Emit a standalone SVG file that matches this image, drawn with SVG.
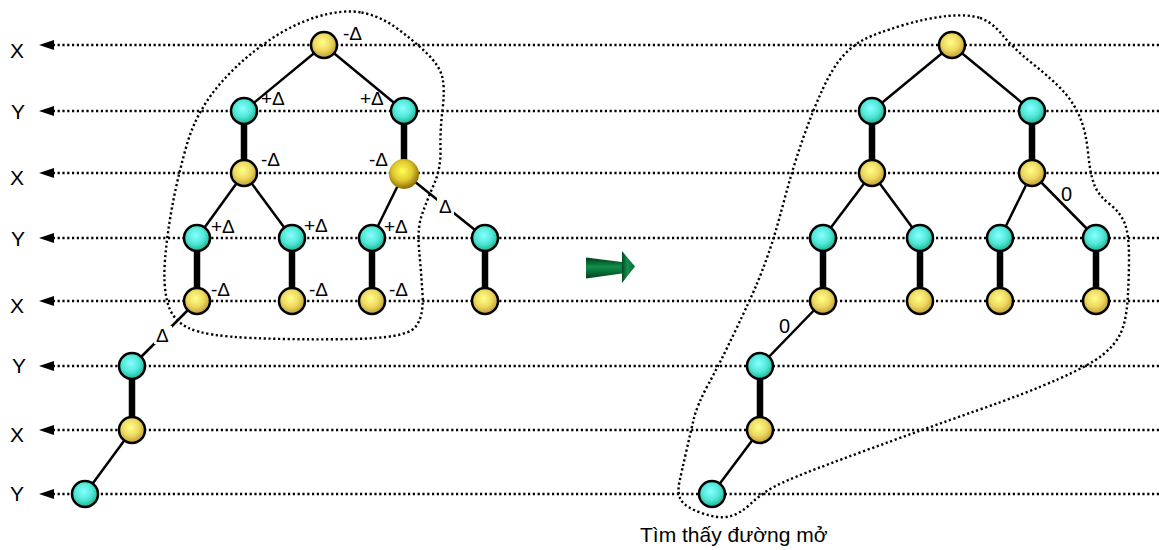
<svg xmlns="http://www.w3.org/2000/svg" width="1159" height="550" viewBox="0 0 1159 550">
<style>
.row{fill:none;stroke:#000;stroke-width:2.4;stroke-dasharray:2.2 2.6}
.enc{fill:none;stroke:#000;stroke-width:2.4;stroke-dasharray:2.2 2.6}
.thin{stroke:#000;stroke-width:2.5;fill:none}
.thick{stroke:#000;stroke-width:6.5;fill:none}
.nx{fill:url(#gy);stroke:#000;stroke-width:2.5}
.ny{fill:url(#gt);stroke:#000;stroke-width:2.5}
.ax{font-family:"Liberation Sans",Arial,sans-serif;font-size:21px;fill:#000}
.lb{font-family:"Liberation Sans",Arial,sans-serif;font-size:19px;fill:#000}
.nm{font-family:"Liberation Sans",Arial,sans-serif;font-size:20px;fill:#000}
.cap{font-family:"Liberation Sans",Arial,sans-serif;font-size:21px;fill:#000}
</style>
<defs>
<radialGradient id="gy" cx="0.45" cy="0.4" r="0.6">
<stop offset="0" stop-color="#ffff88"/>
<stop offset="0.55" stop-color="#ecd860"/>
<stop offset="1" stop-color="#c09a30"/>
</radialGradient>
<radialGradient id="gt" cx="0.45" cy="0.4" r="0.6">
<stop offset="0" stop-color="#88ffff"/>
<stop offset="0.55" stop-color="#50e8d8"/>
<stop offset="1" stop-color="#20b090"/>
</radialGradient>
<radialGradient id="gs" cx="0.45" cy="0.4" r="0.6">
<stop offset="0" stop-color="#ffff50"/>
<stop offset="0.55" stop-color="#e0c830"/>
<stop offset="1" stop-color="#8a6800"/>
</radialGradient>
<linearGradient id="gb" x1="0" y1="0" x2="0" y2="1">
<stop offset="0" stop-color="#003a18"/>
<stop offset="0.45" stop-color="#12904a"/>
<stop offset="1" stop-color="#00401c"/>
</linearGradient>
<linearGradient id="gh" x1="0" y1="0" x2="1" y2="0">
<stop offset="0" stop-color="#004a20"/>
<stop offset="0.4" stop-color="#14904c"/>
<stop offset="1" stop-color="#0a6a34"/>
</linearGradient>
<marker id="ah" viewBox="0 0 15 10" refX="0" refY="5" markerWidth="15" markerHeight="10" markerUnits="userSpaceOnUse" orient="auto">
<path d="M0,0 L15,5 L0,10 Z" fill="#000"/>
</marker>
</defs>
<rect width="1159" height="550" fill="#fff"/>

<g id="rows">
<line class="row" x1="1159" y1="45" x2="54" y2="45" marker-end="url(#ah)"/>
<line class="row" x1="1159" y1="111" x2="54" y2="111" marker-end="url(#ah)"/>
<line class="row" x1="1159" y1="173" x2="54" y2="173" marker-end="url(#ah)"/>
<line class="row" x1="1159" y1="238" x2="54" y2="238" marker-end="url(#ah)"/>
<line class="row" x1="1159" y1="301" x2="54" y2="301" marker-end="url(#ah)"/>
<line class="row" x1="1159" y1="366" x2="54" y2="366" marker-end="url(#ah)"/>
<line class="row" x1="1159" y1="430" x2="54" y2="430" marker-end="url(#ah)"/>
<line class="row" x1="1159" y1="494" x2="54" y2="494" marker-end="url(#ah)"/>
<text class="ax" x="17" y="58" text-anchor="middle">X</text>
<text class="ax" x="18" y="119" text-anchor="middle">Y</text>
<text class="ax" x="17" y="185" text-anchor="middle">X</text>
<text class="ax" x="18" y="246" text-anchor="middle">Y</text>
<text class="ax" x="17" y="313" text-anchor="middle">X</text>
<text class="ax" x="19" y="373" text-anchor="middle">Y</text>
<text class="ax" x="17" y="442" text-anchor="middle">X</text>
<text class="ax" x="17" y="501" text-anchor="middle">Y</text>
</g>

<g id="enclosures">
<path class="enc" d="M361.5,12.5 Q380,16 396.5,28 Q413,40 426.5,53 Q440,66 442.5,78 Q445,90 442.5,110 Q440,130 440.5,149 Q441,168 434.5,183 Q428,198 422.5,213 Q417,228 419,249 Q421,270 422.5,294 Q424,318 414.5,328 Q405,338 352.5,339 Q300,340 252.5,338 Q205,336 188.5,328 Q172,320 167.5,302.5 Q163,285 165,260 Q167,235 172,207.5 Q177,180 186,147.5 Q195,115 215,90 Q235,65 262.5,45 Q290,25 316.5,17 Q343,9 361.5,12.5 Z"/>
<path class="enc" d="M980,18 Q992,22 1002.5,35 Q1013,48 1033,64 Q1053,80 1063.5,91.5 Q1074,103 1080,117.5 Q1086,132 1088,152.5 Q1090,173 1094,184 Q1098,195 1109.5,204 Q1121,213 1125,224 Q1129,235 1129,257.5 Q1129,280 1127.5,301 Q1126,322 1120.5,333.5 Q1115,345 1102.5,355 Q1090,365 1058.5,379 Q1027,393 977,410.5 Q927,428 860,452.5 Q793,477 777.5,485 Q762,493 751,503.5 Q740,514 729,516.5 Q718,519 701.5,513 Q685,507 681,500 Q677,493 679.5,481.5 Q682,470 686,452.5 Q690,435 693.5,420 Q697,405 708.5,384 Q720,363 735,331.5 Q750,300 756,286 Q762,272 768.5,253.5 Q775,235 784,201 Q793,167 803,138.5 Q813,110 823,88.5 Q833,67 843,56 Q853,45 865,39 Q877,33 902,25.5 Q927,18 947.5,16 Q968,14 980,18 Z"/>
</g>

<g id="connectors">
<line class="thin" x1="324" y1="45" x2="244" y2="111"/>
<line class="thin" x1="324" y1="45" x2="404" y2="111"/>
<line class="thick" x1="244" y1="111" x2="244" y2="173"/>
<line class="thick" x1="404" y1="111" x2="404" y2="173"/>
<line class="thin" x1="244" y1="173" x2="197" y2="238"/>
<line class="thin" x1="244" y1="173" x2="292" y2="238"/>
<line class="thin" x1="404" y1="173" x2="372" y2="238"/>
<line class="thin" x1="404" y1="173" x2="485" y2="238"/>
<line class="thick" x1="197" y1="238" x2="197" y2="301"/>
<line class="thick" x1="292" y1="238" x2="292" y2="301"/>
<line class="thick" x1="372" y1="238" x2="372" y2="301"/>
<line class="thick" x1="485" y1="238" x2="485" y2="301"/>
<line class="thin" x1="197" y1="301" x2="132" y2="366"/>
<line class="thick" x1="132" y1="366" x2="132" y2="430"/>
<line class="thin" x1="132" y1="430" x2="85" y2="494"/>

<line class="thin" x1="952" y1="45" x2="872" y2="111"/>
<line class="thin" x1="952" y1="45" x2="1032" y2="111"/>
<line class="thick" x1="872" y1="111" x2="872" y2="173"/>
<line class="thick" x1="1032" y1="111" x2="1032" y2="173"/>
<line class="thin" x1="872" y1="173" x2="823" y2="238"/>
<line class="thin" x1="872" y1="173" x2="920" y2="238"/>
<line class="thin" x1="1032" y1="173" x2="1000" y2="238"/>
<line class="thin" x1="1032" y1="173" x2="1096" y2="238"/>
<line class="thick" x1="823" y1="238" x2="823" y2="301"/>
<line class="thick" x1="920" y1="238" x2="920" y2="301"/>
<line class="thick" x1="1000" y1="238" x2="1000" y2="301"/>
<line class="thick" x1="1096" y1="238" x2="1096" y2="301"/>
<line class="thin" x1="823" y1="301" x2="760" y2="366"/>
<line class="thick" x1="760" y1="366" x2="760" y2="430"/>
<line class="thin" x1="760" y1="430" x2="712" y2="494"/>
</g>

<g id="left-tree">
<g id="L-root"><circle class="nx" cx="324" cy="45" r="13"/></g>
<g id="L-y1"><circle class="ny" cx="244" cy="111" r="13"/></g>
<g id="L-y2"><circle class="ny" cx="404" cy="111" r="13"/></g>
<g id="L-x1"><circle class="nx" cx="244" cy="173" r="13"/></g>
<g id="L-x2"><circle cx="404" cy="174" r="15" fill="url(#gs)"/></g>
<g id="L-y3"><circle class="ny" cx="197" cy="238" r="13"/></g>
<g id="L-y4"><circle class="ny" cx="292" cy="238" r="13"/></g>
<g id="L-y5"><circle class="ny" cx="372" cy="238" r="13"/></g>
<g id="L-y6"><circle class="ny" cx="485" cy="238" r="13"/></g>
<g id="L-x3"><circle class="nx" cx="197" cy="301" r="13"/></g>
<g id="L-x4"><circle class="nx" cx="292" cy="301" r="13"/></g>
<g id="L-x5"><circle class="nx" cx="372" cy="301" r="13"/></g>
<g id="L-x6"><circle class="nx" cx="485" cy="301" r="13"/></g>
<g id="L-y7"><circle class="ny" cx="132" cy="366" r="13"/></g>
<g id="L-x7"><circle class="nx" cx="132" cy="430" r="13"/></g>
<g id="L-y8"><circle class="ny" cx="85" cy="494" r="13"/></g>
</g>

<g id="right-tree">
<g id="R-root"><circle class="nx" cx="952" cy="45" r="13"/></g>
<g id="R-y1"><circle class="ny" cx="872" cy="111" r="13"/></g>
<g id="R-y2"><circle class="ny" cx="1032" cy="111" r="13"/></g>
<g id="R-x1"><circle class="nx" cx="872" cy="173" r="13"/></g>
<g id="R-x2"><circle class="nx" cx="1032" cy="173" r="13"/></g>
<g id="R-y3"><circle class="ny" cx="823" cy="238" r="13"/></g>
<g id="R-y4"><circle class="ny" cx="920" cy="238" r="13"/></g>
<g id="R-y5"><circle class="ny" cx="1000" cy="238" r="13"/></g>
<g id="R-y6"><circle class="ny" cx="1096" cy="238" r="13"/></g>
<g id="R-x3"><circle class="nx" cx="823" cy="301" r="13"/></g>
<g id="R-x4"><circle class="nx" cx="920" cy="301" r="13"/></g>
<g id="R-x5"><circle class="nx" cx="1000" cy="301" r="13"/></g>
<g id="R-x6"><circle class="nx" cx="1096" cy="301" r="13"/></g>
<g id="R-y7"><circle class="ny" cx="760" cy="366" r="13"/></g>
<g id="R-x7"><circle class="nx" cx="760" cy="430" r="13"/></g>
<g id="R-y8"><circle class="ny" cx="712" cy="494" r="13"/></g>
</g>

<g id="labels">
<text class="lb" x="343" y="40">-Δ</text>
<text class="lb" x="261" y="105">+Δ</text>
<text class="lb" x="360" y="105">+Δ</text>
<text class="lb" x="261" y="166">-Δ</text>
<text class="lb" x="369" y="166">-Δ</text>
<rect x="437" y="197" width="17" height="18" fill="#fff"/>
<text class="lb" x="439" y="213">Δ</text>
<text class="lb" x="211" y="233">+Δ</text>
<text class="lb" x="304" y="232">+Δ</text>
<text class="lb" x="384" y="233">+Δ</text>
<text class="lb" x="211" y="296">-Δ</text>
<text class="lb" x="309" y="296">-Δ</text>
<text class="lb" x="389" y="296">-Δ</text>
<rect x="154" y="326" width="18" height="18" fill="#fff"/>
<text class="lb" x="156" y="342">Δ</text>
<text class="nm" x="1061" y="201">0</text>
<text class="nm" x="779" y="333">0</text>
<text class="cap" x="640" y="542">Tìm thấy đường mở</text>
</g>

<g id="green-arrow">
<polygon points="586,257.5 622,262 622,273.5 586,278.5" fill="url(#gb)"/>
<polygon points="622,251 635,266.5 622,283" fill="url(#gh)"/>
</g>
</svg>
